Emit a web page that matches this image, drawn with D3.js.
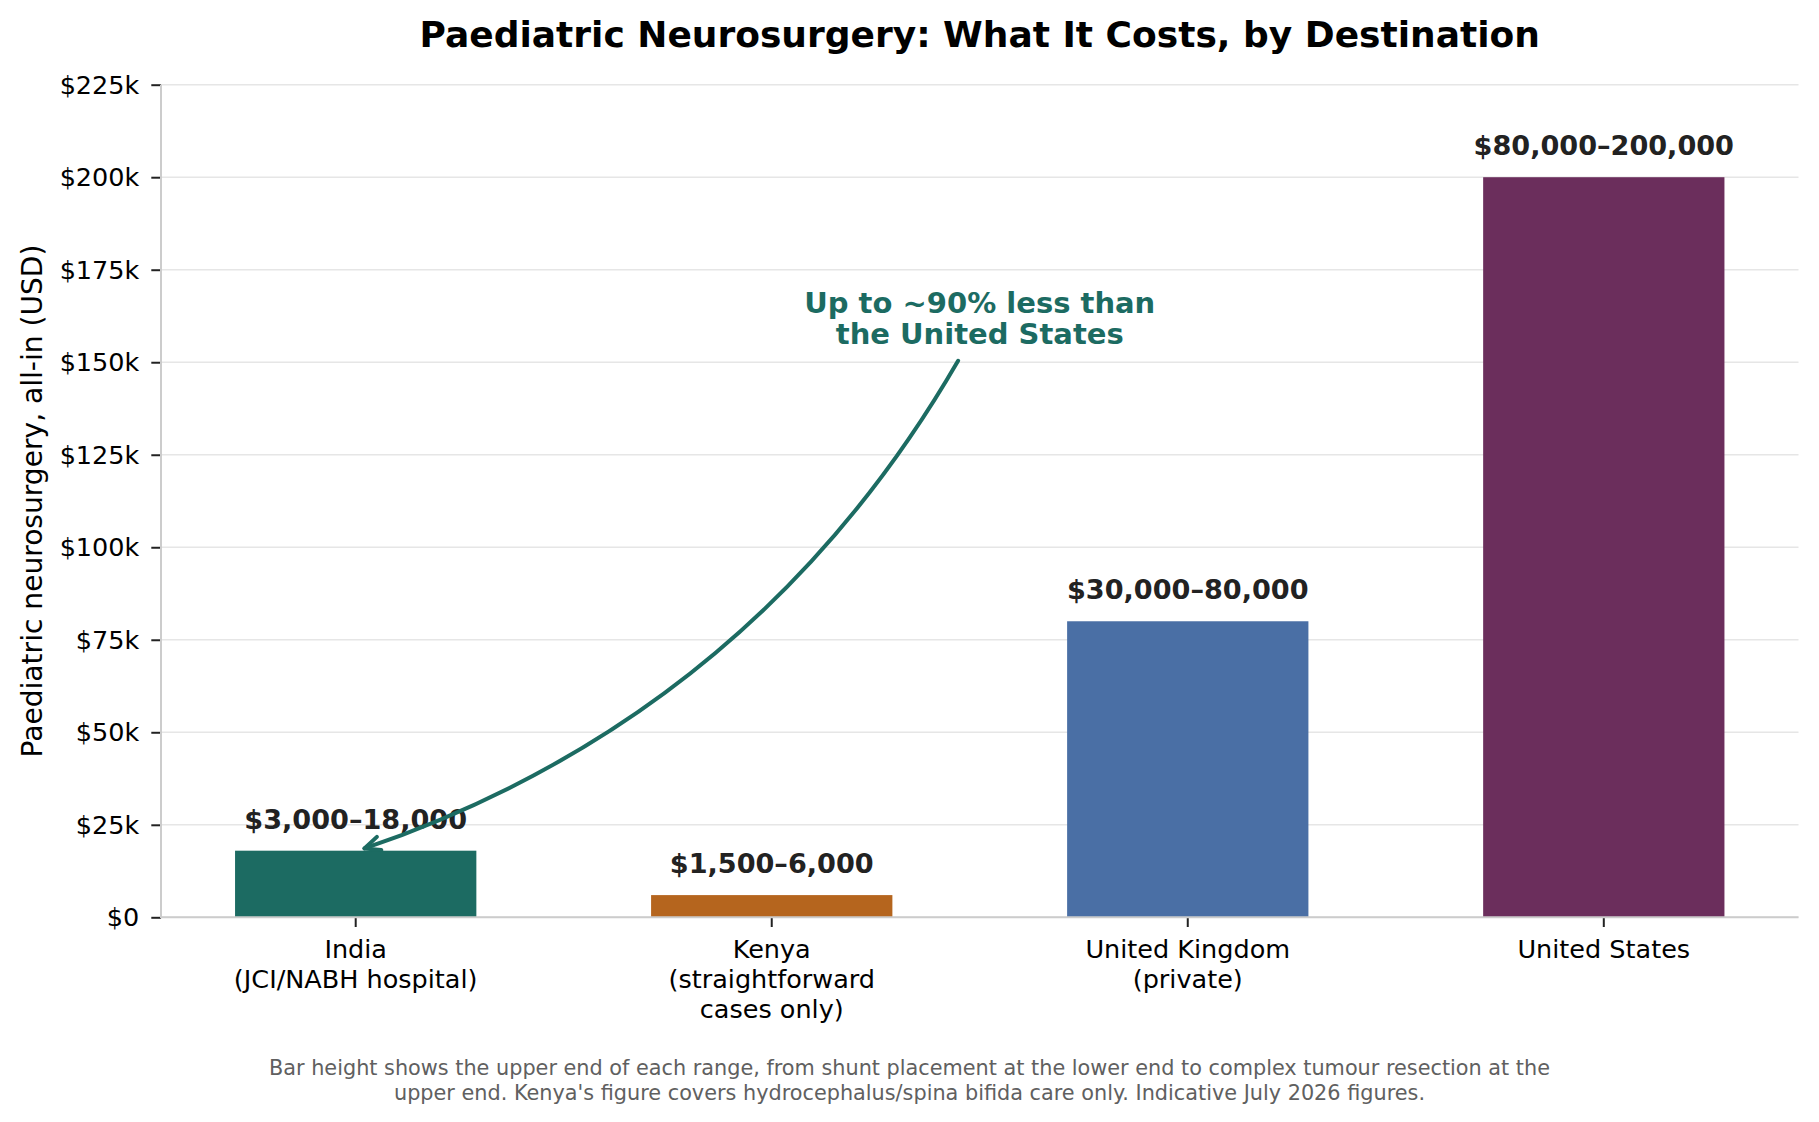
<!DOCTYPE html>
<html lang="en">
<head>
<meta charset="utf-8">
<title>Paediatric Neurosurgery: What It Costs, by Destination</title>
<style>
  body {margin: 0; background: #fff;}
  svg  {display: block; font-family: "DejaVu Sans", sans-serif;}
</style>
</head>
<body>

<svg id="chart" width="1819" height="1122"></svg>

<script src="https://d3js.org/d3.v7.min.js"></script>

<script>
// chart values
const destinations = [
  ["India", "(JCI/NABH hospital)"],
  ["Kenya", "(straightforward", "cases only)"],
  ["United Kingdom", "(private)"],
  ["United States"]
];
const lowCost  = [3000, 1500, 30000, 80000];
const highCost = [18000, 6000, 80000, 200000];
const barColors = ["#1c6b62", "#b5651e", "#4a6fa5", "#6b2e5c"];
const yTicks = [0, 25000, 50000, 75000, 100000, 125000, 150000, 175000, 200000, 225000];

// annotation anchors in data units [category index, USD]
const noteLines = ["Up to ~90% less than", "the United States"];
const noteAt    = [1.5, 160000];
const arrowFrom = [1.448, 150400];
const arrowTo   = [0.021, 18600];

const svg = d3.select("#chart");
const W = 1819, H = 1122;
const plotL = 161, plotR = 1798.5, plotT = 84.7, plotB = 917.3;

const x = d3.scaleBand()
  .domain(d3.range(destinations.length))
  .range([plotL, plotR])
  .paddingInner(0.42)
  .paddingOuter(0.178);

// numeric x for the annotation (category index -> centre of band)
const xc = i => x(0) + x.bandwidth() / 2 + i * x.step();

const y = d3.scaleLinear().domain([0, 225000]).range([plotB, plotT]);

const fmtK = v => v === 0 ? "$0" : "$" + (v / 1000) + "k";
const fmtN = d3.format(",");

// grid
svg.append("g")
  .selectAll("line")
  .data(yTicks)
  .join("line")
    .attr("x1", plotL).attr("x2", plotR)
    .attr("y1", d => y(d)).attr("y2", d => y(d))
    .attr("stroke", "#e6e6e6")
    .attr("stroke-width", 1.6);

// bars
svg.append("g")
  .selectAll("rect")
  .data(highCost)
  .join("rect")
    .attr("x", (d, i) => x(i))
    .attr("width", x.bandwidth())
    .attr("y", d => y(d))
    .attr("height", d => y(0) - y(d))
    .attr("fill", (d, i) => barColors[i]);

// value labels
svg.append("g")
  .selectAll("text")
  .data(highCost)
  .join("text")
    .attr("x", (d, i) => x(i) + x.bandwidth() / 2)
    .attr("y", d => y(d) - 22)
    .attr("text-anchor", "middle")
    .attr("font-size", 27.1)
    .attr("font-weight", "bold")
    .attr("fill", "#222")
    .text((d, i) => "$" + fmtN(lowCost[i]) + "\u2013" + fmtN(d));

// y axis
const yAxis = svg.append("g")
  .attr("transform", `translate(${plotL},0)`)
  .call(d3.axisLeft(y).tickValues(yTicks).tickFormat(fmtK).tickSize(9.7).tickPadding(12));
yAxis.select(".domain").remove();
yAxis.selectAll(".tick line").attr("stroke", "#222").attr("stroke-width", 2);
yAxis.selectAll(".tick text")
  .attr("font-size", 25.5)
  .attr("font-family", "DejaVu Sans")
  .attr("fill", "#000")
  .attr("dy", "0.34em");

// x axis ticks and multi-line labels
const xAxis = svg.append("g")
  .attr("transform", `translate(0,${plotB})`)
  .call(d3.axisBottom(x).tickSize(9.7).tickFormat(""));
xAxis.select(".domain").remove();
xAxis.selectAll(".tick line").attr("stroke", "#222").attr("stroke-width", 2);
xAxis.selectAll(".tick").each(function (i) {
  const t = d3.select(this).append("text")
    .attr("text-anchor", "middle")
    .attr("font-size", 25.5)
    .attr("font-family", "DejaVu Sans")
    .attr("fill", "#000");
  destinations[i].forEach((line, k) => {
    t.append("tspan").attr("x", 0).attr("y", 41 + k * 30).text(line);
  });
});

// spines
svg.append("line")
  .attr("x1", plotL).attr("x2", plotL).attr("y1", plotT).attr("y2", plotB + 1)
  .attr("stroke", "#cccccc").attr("stroke-width", 2);
svg.append("line")
  .attr("x1", plotL).attr("x2", plotR).attr("y1", plotB).attr("y2", plotB)
  .attr("stroke", "#cccccc").attr("stroke-width", 2);

// y label
svg.append("text")
  .attr("transform", `translate(32.5,${(plotT + plotB) / 2}) rotate(-90)`)
  .attr("text-anchor", "middle")
  .attr("dominant-baseline", "central")
  .attr("font-size", 28.1)
  .attr("fill", "#000")
  .text("Paediatric neurosurgery, all-in (USD)");

// title
svg.append("text")
  .attr("x", (plotL + plotR) / 2)
  .attr("y", 47)
  .attr("text-anchor", "middle")
  .attr("font-size", 36)
  .attr("font-weight", "bold")
  .attr("fill", "#000")
  .text("Paediatric Neurosurgery: What It Costs, by Destination");

// annotation text
const teal = barColors[0];
const note = svg.append("text")
  .attr("text-anchor", "middle")
  .attr("font-size", 29)
  .attr("font-weight", "bold")
  .attr("fill", teal);
noteLines.forEach((line, k) => {
  note.append("tspan")
    .attr("x", xc(noteAt[0]))
    .attr("y", 313.3 + k * 30.7)
    .text(line);
});

// curved arrow (arc3-like quadratic curve)
const p0 = [xc(arrowFrom[0]), y(arrowFrom[1])];
const p2 = [xc(arrowTo[0]), y(arrowTo[1])];
const rad = 0.187;
const dx = p2[0] - p0[0], dy = p2[1] - p0[1];
const c = [(p0[0] + p2[0]) / 2 + rad * dy, (p0[1] + p2[1]) / 2 - rad * dx];
const curve = d3.path();
curve.moveTo(p0[0], p0[1]);
curve.quadraticCurveTo(c[0], c[1], p2[0], p2[1]);
svg.append("path")
  .attr("d", curve.toString())
  .attr("fill", "none")
  .attr("stroke", teal)
  .attr("stroke-width", 4)
  .attr("stroke-linecap", "round");

const ang = Math.atan2(c[1] - p2[1], c[0] - p2[0]);
const hl = 17, ha = 24 * Math.PI / 180;
const head = d3.path();
head.moveTo(p2[0] + hl * Math.cos(ang - ha), p2[1] + hl * Math.sin(ang - ha));
head.lineTo(p2[0], p2[1]);
head.lineTo(p2[0] + hl * Math.cos(ang + ha), p2[1] + hl * Math.sin(ang + ha));
svg.append("path")
  .attr("d", head.toString())
  .attr("fill", "none")
  .attr("stroke", teal)
  .attr("stroke-width", 4)
  .attr("stroke-linecap", "round")
  .attr("stroke-linejoin", "round");

// footnote
const foot = svg.append("text")
  .attr("text-anchor", "middle")
  .attr("font-size", 20.8)
  .attr("fill", "#606060");
["Bar height shows the upper end of each range, from shunt placement at the lower end to complex tumour resection at the",
 "upper end. Kenya's figure covers hydrocephalus/spina bifida care only. Indicative July 2026 figures."]
  .forEach((line, k) => {
    foot.append("tspan").attr("x", W / 2).attr("y", 1075 + k * 24.5).text(line);
  });
</script>

</body>
</html>
